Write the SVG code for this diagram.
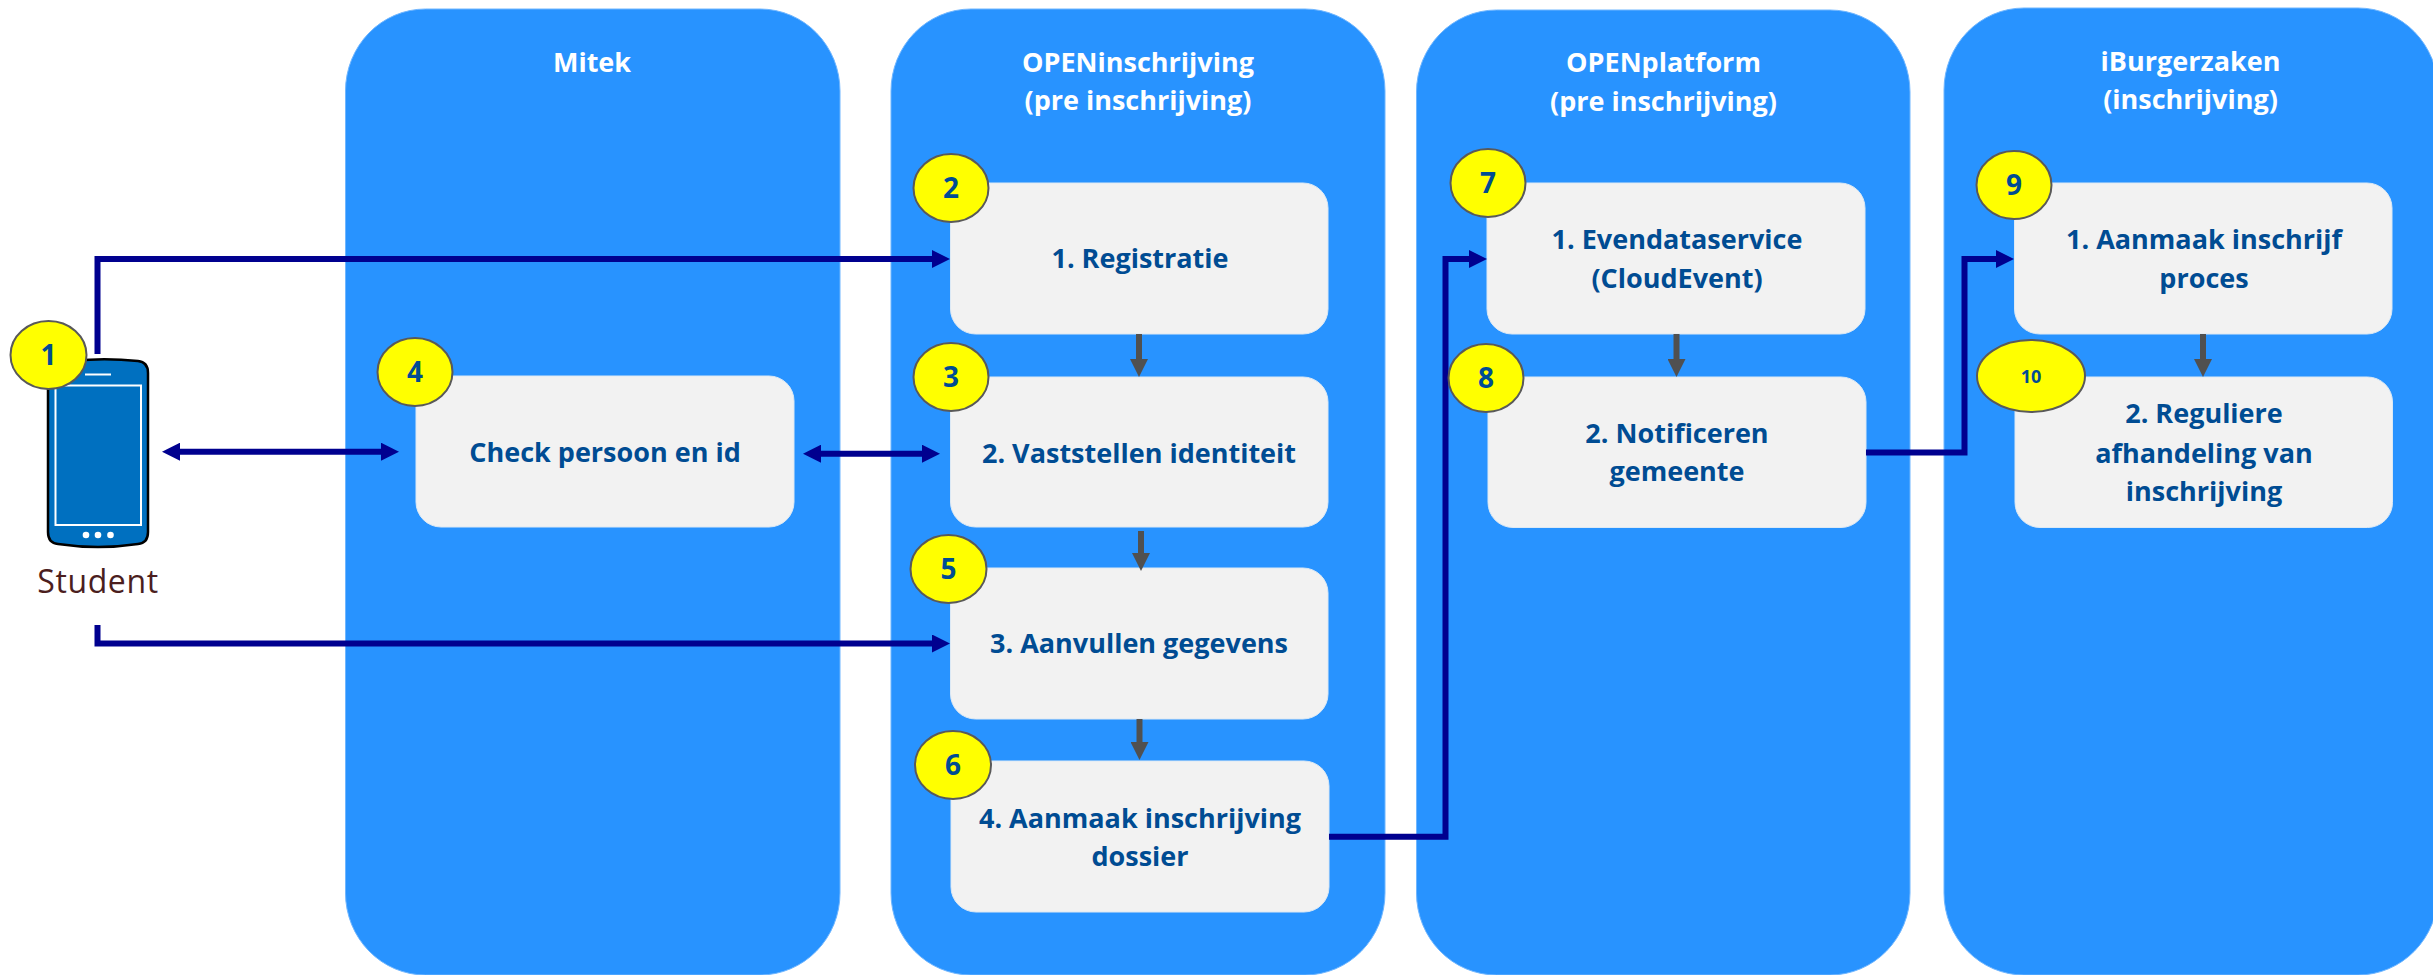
<svg xmlns="http://www.w3.org/2000/svg" width="2433" height="975" viewBox="0 0 2433 975">
<style>
text{font-family:"Open Sans","Noto Sans","Liberation Sans",sans-serif;text-anchor:middle}
.lane{fill:#2893FF;stroke:#6FB6FF;stroke-width:1}
.box{fill:#F2F2F2;stroke:#DCE9F5;stroke-width:1}
.title{fill:#fff;font-size:27px;font-weight:700}
.lbl{fill:#004C93;font-size:27px;font-weight:700}
.bdg{fill:#FFFF00;stroke:#595959;stroke-width:2}
.num{fill:#004C93;font-size:28px;font-weight:700}
.blue{fill:none;stroke:#00008F;stroke-width:6}
.gray{fill:none;stroke:#505050;stroke-width:6}
.ph{fill:#0070C0;stroke:#000;stroke-width:2.5}
.scr{fill:none;stroke:#fff;stroke-width:2}
</style>
<defs>
<marker id="ab" markerUnits="userSpaceOnUse" markerWidth="18" markerHeight="18" refX="9" refY="9" orient="auto-start-reverse"><path d="M0 0L18 9L0 18Z" fill="#00008F"/></marker>
<marker id="ag" markerUnits="userSpaceOnUse" markerWidth="18" markerHeight="18" refX="9" refY="9" orient="auto-start-reverse"><path d="M0 0L18 9L0 18Z" fill="#505050"/></marker>
</defs>
<g id="lane-mitek"><rect class="lane" x="345.500" y="9" width="494.500" height="966" rx="80" ry="82"/><text class="title" x="592" y="72">Mitek</text></g>
<g id="lane-openinschrijving"><rect class="lane" x="891" y="9" width="494" height="966" rx="80" ry="82"/><text class="title" x="1138" y="72">OPENinschrijving</text><text class="title" x="1138" y="110">(pre inschrijving)</text></g>
<g id="lane-openplatform"><rect class="lane" x="1416.500" y="10" width="493.500" height="965" rx="80" ry="82"/><text class="title" x="1663.500" y="72">OPENplatform</text><text class="title" x="1663.500" y="111">(pre inschrijving)</text></g>
<g id="lane-iburgerzaken"><rect class="lane" x="1944" y="8" width="494" height="967" rx="80" ry="82"/><text class="title" x="2190.500" y="71">iBurgerzaken</text><text class="title" x="2190.500" y="109">(inschrijving)</text></g>

<g id="node-student">
<path class="ph" d="M62 362Q100 357 138 361Q148 362 148 373V532Q148 543 138 544Q98 550 58 544Q48 543 48 532V372Q48 363 62 362Z"/>
<rect class="scr" x="55.500" y="385.500" width="85.500" height="139.500"/>
<path class="scr" d="M85 374.500H111"/>
<circle cx="86" cy="535" r="3.300" fill="#fff"/><circle cx="98" cy="535" r="3.300" fill="#fff"/><circle cx="110.500" cy="535" r="3.300" fill="#fff"/>
<text x="98" y="593" fill="#4B1E1E" font-size="32" letter-spacing="0.600">Student</text>
</g>

<g id="node-check"><rect class="box" x="416" y="376" width="378" height="151" rx="25"/><text class="lbl" x="605" y="462">Check persoon en id</text></g>
<g id="node-registratie"><rect class="box" x="950.500" y="183" width="377.500" height="151" rx="25"/><text class="lbl" x="1140" y="268">1. Registratie</text></g>
<g id="node-vaststellen"><rect class="box" x="950.500" y="377" width="377.500" height="150" rx="25"/><text class="lbl" x="1139" y="463">2. Vaststellen identiteit</text></g>
<g id="node-aanvullen"><rect class="box" x="950.500" y="568" width="377.500" height="151" rx="25"/><text class="lbl" x="1139" y="653">3. Aanvullen gegevens</text></g>
<g id="node-dossier"><rect class="box" x="951" y="761" width="378" height="151" rx="25"/><text class="lbl" x="1140" y="828">4. Aanmaak inschrijving</text><text class="lbl" x="1140" y="866">dossier</text></g>
<g id="node-evendata"><rect class="box" x="1487" y="183" width="378" height="151" rx="25"/><text class="lbl" x="1677" y="249">1. Evendataservice</text><text class="lbl" x="1677" y="287.500">(CloudEvent)</text></g>
<g id="node-notificeren"><rect class="box" x="1488" y="377" width="378" height="150.500" rx="25"/><text class="lbl" x="1677" y="443">2. Notificeren</text><text class="lbl" x="1677" y="481">gemeente</text></g>
<g id="node-aanmaak"><rect class="box" x="2014.500" y="183" width="377.500" height="151" rx="25"/><text class="lbl" x="2204" y="249">1. Aanmaak inschrijf</text><text class="lbl" x="2204" y="287.500">proces</text></g>
<g id="node-reguliere"><rect class="box" x="2015" y="377" width="377.500" height="150.500" rx="25"/><text class="lbl" x="2204" y="423">2. Reguliere</text><text class="lbl" x="2204" y="462.500">afhandeling van</text><text class="lbl" x="2204" y="501">inschrijving</text></g>

<g id="connectors">
<path class="blue" marker-end="url(#ab)" d="M97.500 354V259H941"/>
<path class="blue" marker-end="url(#ab)" d="M97.500 625V643.500H941"/>
<path class="blue" marker-start="url(#ab)" marker-end="url(#ab)" d="M171 451.700H390"/>
<path class="blue" marker-start="url(#ab)" marker-end="url(#ab)" d="M812 453.700H931"/>
<path class="blue" marker-end="url(#ab)" d="M1329 836.700H1445.500V259H1478"/>
<path class="blue" marker-end="url(#ab)" d="M1866 452.500H1964.500V259H2005"/>
<path class="gray" marker-end="url(#ag)" d="M1139 334V368"/>
<path class="gray" marker-end="url(#ag)" d="M1141 531V562"/>
<path class="gray" marker-end="url(#ag)" d="M1139.500 719V751"/>
<path class="gray" marker-end="url(#ag)" d="M1676.500 334V368"/>
<path class="gray" marker-end="url(#ag)" d="M2203 334V368"/>
</g>

<g id="badge-1"><ellipse class="bdg" cx="48.500" cy="355" rx="38" ry="34"/><text class="num" x="48.500" y="365">1</text></g>
<g id="badge-2"><ellipse class="bdg" cx="951" cy="188" rx="37.500" ry="34"/><text class="num" x="951" y="198">2</text></g>
<g id="badge-3"><ellipse class="bdg" cx="951" cy="377" rx="37.500" ry="34"/><text class="num" x="951" y="387">3</text></g>
<g id="badge-4"><ellipse class="bdg" cx="415" cy="372" rx="37.500" ry="34"/><text class="num" x="415" y="382">4</text></g>
<g id="badge-5"><ellipse class="bdg" cx="948.500" cy="569" rx="38" ry="34"/><text class="num" x="948.500" y="579">5</text></g>
<g id="badge-6"><ellipse class="bdg" cx="953" cy="765" rx="38" ry="34"/><text class="num" x="953" y="775">6</text></g>
<g id="badge-7"><ellipse class="bdg" cx="1488" cy="183" rx="37.500" ry="34"/><text class="num" x="1488" y="193">7</text></g>
<g id="badge-8"><ellipse class="bdg" cx="1486" cy="378" rx="37.500" ry="34"/><text class="num" x="1486" y="388">8</text></g>
<g id="badge-9"><ellipse class="bdg" cx="2014" cy="185" rx="37.500" ry="34"/><text class="num" x="2014" y="195">9</text></g>
<g id="badge-10"><ellipse class="bdg" cx="2031" cy="376" rx="54" ry="36"/><text class="num" x="2031" y="383" style="font-size:18px">10</text></g>
</svg>
